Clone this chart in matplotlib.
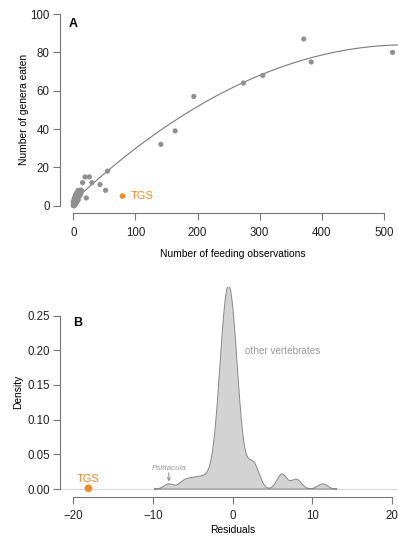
import numpy as np
import matplotlib
matplotlib.use("Agg")
import matplotlib.pyplot as plt

plt.rcParams['font.family'] = ['Liberation Sans', 'DejaVu Sans']

# panel A: feeding observations vs genera eaten (other vertebrates)
obs = [0, 1, 1, 2, 2, 3, 3, 4, 4, 5, 5, 6, 6, 7, 7, 8, 8, 9, 9, 10, 10, 11, 12, 13,
       0, 0, 1, 2, 3, 4, 6, 8, 2, 4, 6, 8, 10, 12, 9, 11,
       15, 19, 21, 26, 30, 43, 52, 55, 141, 164, 194, 274, 305, 371, 383, 514]
genera = [0, 0, 1, 1, 2, 1, 2, 2, 3, 3, 4, 3, 4, 4, 5, 5, 6, 5, 6, 6, 7, 7, 7, 8,
          1, 2, 3, 4, 5, 6, 7, 8, 0, 1, 2, 3, 5, 6, 7, 8,
          12, 15, 4, 15, 12, 11, 8, 18, 32, 39, 57, 64, 68, 87, 75, 80]
tgs_obs, tgs_genera = 79, 5

# panel B: residuals of other vertebrates (value, how many)
resid_vals = [-8.0, -6.3, -5.6, -4.9, -4.3, -3.7, -3.1,
              -2.6, -2.3, -2.0, -1.7, -1.4, -1.1, -0.8, -0.5, -0.2, 0.1, 0.4, 0.7, 1.0, 1.3, 1.6,
              2.0, 2.3, 2.6, 2.9, 3.2, 6.1, 6.4, 7.8, 8.2, 11.3]
resid_counts = [1, 1, 1, 1, 1, 1, 1,
                1, 1, 2, 4, 6, 8, 9, 9, 9, 8, 6, 4, 2, 1, 1,
                1, 1, 2, 1, 1, 2, 1, 1, 1, 1]
tgs_resid = -18.1
psittacula = -8.0
bw = 0.6

grey = '#909090'
orange = '#F7891C'

fig = plt.figure(figsize=(3.98, 5.43), dpi=100)

# ---- A ----
ax1 = fig.add_axes([0.152, 0.6072, 0.868, 0.381])
coef = np.polyfit(obs, genera, 2)
xs = np.linspace(0, 540, 300)
ax1.plot(xs, np.polyval(coef, xs), color='#7a7a7a', lw=0.8, zorder=2)
ax1.scatter(obs, genera, s=14, color=grey, edgecolors='none', zorder=3)
ax1.scatter([tgs_obs], [tgs_genera], s=16, color=orange, edgecolors='none', zorder=4)
ax1.text(tgs_obs + 14, tgs_genera, 'TGS', color=orange, fontsize=8, va='center')
ax1.text(0.037, 0.915, 'A', transform=ax1.transAxes, fontsize=9, fontweight='bold',
         ha='center', va='center')
ax1.set_xlim(-20.6, 535.6)
ax1.set_ylim(-4, 104)
ax1.set_xticks([0, 100, 200, 300, 400, 500])
ax1.set_yticks([0, 20, 40, 60, 80, 100])
ax1.set_xlabel('Number of feeding observations', fontsize=7.4)
ax1.set_ylabel('Number of genera eaten', fontsize=7.4)
ax1.yaxis.set_label_coords(-0.092, 0.5)
ax1.xaxis.set_label_coords(0.5, -0.175)
ax1.spines['left'].set_bounds(0, 100)
ax1.spines['bottom'].set_bounds(0, 500)

# ---- B ----
ax2 = fig.add_axes([0.152, 0.0851, 0.8646, 0.3864])
res = np.repeat(resid_vals, resid_counts)
grid = np.linspace(res.min() - 3 * bw, res.max() + 3 * bw, 512)
dens = np.exp(-0.5 * ((grid[:, None] - res[None, :]) / bw) ** 2).sum(axis=1)
dens = dens / (len(res) * bw * np.sqrt(2 * np.pi))
ax2.axhline(0, color='#d8d8d8', lw=0.8, zorder=1)
ax2.fill_between(grid, 0, dens, facecolor='#d3d3d3', edgecolor='none', zorder=2)
ax2.plot(np.r_[grid, grid[::-1]], np.r_[dens, np.zeros_like(grid)],
         color='#888888', lw=0.7, zorder=3)
ax2.scatter([tgs_resid], [0.001], s=30, color=orange, edgecolors='none', zorder=4)
ax2.text(tgs_resid, 0.0145, 'TGS', color=orange, fontsize=8, ha='center', va='center')
ax2.text(1.6, 0.1995, 'other vertebrates', color='#999999', fontsize=7.2, va='center')
ax2.text(psittacula, 0.029, 'Psittacula', color='#999999', fontsize=5.8, style='italic',
         ha='center', va='center')
ax2.annotate('', xy=(psittacula, 0.011), xytext=(psittacula, 0.0235),
             arrowprops=dict(arrowstyle='->', color='#888888', lw=0.7,
                             shrinkA=0, shrinkB=0, mutation_scale=5))
ax2.text(0.049, 0.828, 'B', transform=ax2.transAxes, fontsize=9, fontweight='bold',
         ha='center', va='center')
ax2.set_xlim(-21.6, 21.6)
ax2.set_ylim(-0.0112, 0.2912)
ax2.set_xticks([-20, -10, 0, 10, 20])
ax2.set_xticklabels(['\u221220', '\u221210', '0', '10', '20'])
ax2.set_yticks([0, 0.05, 0.10, 0.15, 0.20, 0.25])
ax2.set_yticklabels(['0.00', '0.05', '0.10', '0.15', '0.20', '0.25'])
ax2.set_xlabel('Residuals', fontsize=7.4)
ax2.set_ylabel('Density', fontsize=7.4)
ax2.yaxis.set_label_coords(-0.109, 0.5)
ax2.xaxis.set_label_coords(0.5, -0.135)
ax2.spines['left'].set_bounds(0, 0.25)
ax2.spines['bottom'].set_bounds(-20, 20)

for ax in (ax1, ax2):
    ax.spines['top'].set_visible(False)
    ax.spines['right'].set_visible(False)
    ax.spines['left'].set_color('#777777')
    ax.spines['bottom'].set_color('#777777')
    ax.spines['left'].set_linewidth(0.8)
    ax.spines['bottom'].set_linewidth(0.8)
    ax.tick_params(length=4.8, width=0.8, color='#777777', labelsize=8.3,
                   labelcolor='#222222')
    ax.tick_params(axis='y', pad=3)
    ax.tick_params(axis='x', pad=5)
    ax.set_facecolor('none')

fig.savefig('out.png', dpi=100)
